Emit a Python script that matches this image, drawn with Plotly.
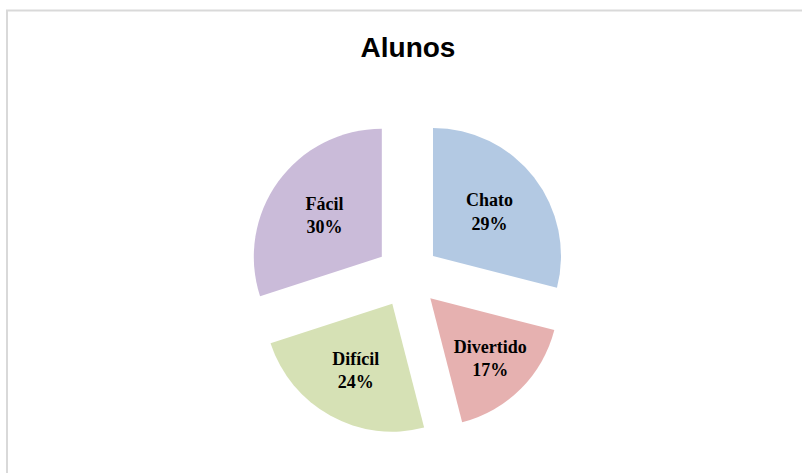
import plotly.graph_objects as go

categories = ["Chato", "Divertido", "Difícil", "Fácil"]
values = [29, 17, 24, 30]
colors = ["#B3C9E3", "#E6B1B0", "#D6E1B5", "#CABBD9"]

W, H = 802, 473
cx, cy, box = 407.7, 275.6, 320

fig = go.Figure(go.Pie(
    labels=categories,
    values=values,
    sort=False,
    direction="clockwise",
    rotation=0,
    pull=[0.25] * len(values),
    marker=dict(colors=colors, line=dict(width=0)),
    texttemplate="%{label}<br>%{percent:.0%}",
    textposition="inside",
    insidetextorientation="horizontal",
    textfont=dict(family="Liberation Serif", size=18, color="black", weight="bold"),
    showlegend=False,
    hoverinfo="label+percent",
    domain=dict(x=[(cx - box / 2) / W, (cx + box / 2) / W],
                y=[1 - (cy + box / 2) / H, 1 - (cy - box / 2) / H]),
))

fig.update_layout(
    width=W, height=H,
    margin=dict(l=0, r=0, t=0, b=0),
    paper_bgcolor="white",
    title=dict(text="<b>Alunos</b>", x=408 / W, xanchor="center",
               y=1 - 47 / H, yanchor="middle",
               font=dict(family="Liberation Sans", size=28, color="black")),
    shapes=[dict(type="rect", xref="paper", yref="paper",
                 x0=7 / W, x1=1.05, y0=-0.05, y1=1 - 10.5 / H,
                 line=dict(color="#D9D9D9", width=2), fillcolor="rgba(0,0,0,0)")],
    uniformtext=dict(minsize=18, mode="show"),
)

fig.write_html("out.html")
